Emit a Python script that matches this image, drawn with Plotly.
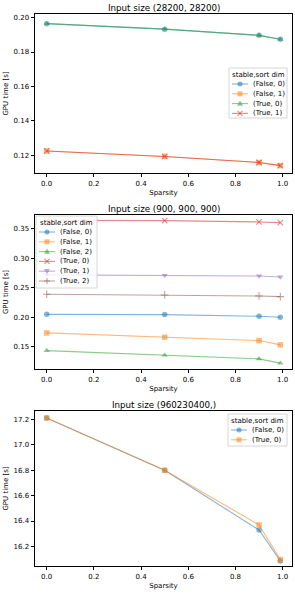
import plotly.graph_objects as go

# ---------------- data ----------------
sparsity = [0.0, 0.5, 0.9, 0.99]

# Plot 1: Input size (28200, 28200)
p1_false0 = [0.1965, 0.1933, 0.1897, 0.1874]
p1_false1 = [0.1225, 0.1193, 0.1158, 0.1140]
p1_true0 = [0.1965, 0.1933, 0.1897, 0.1874]
p1_true1 = [0.1225, 0.1193, 0.1158, 0.1140]

# Plot 2: Input size (900, 900, 900)
p2_false0 = [0.2052, 0.2048, 0.2020, 0.2003]
p2_false1 = [0.1737, 0.1664, 0.1607, 0.1534]
p2_false2 = [0.1437, 0.1359, 0.1297, 0.1224]
p2_true0 = [0.3645, 0.3641, 0.3619, 0.3607]
p2_true1 = [0.2722, 0.2715, 0.2703, 0.2686]
p2_true2 = [0.2393, 0.2381, 0.2364, 0.2353]

# Plot 3: Input size (960230400,)
p3_false0 = [17.213, 16.800, 16.329, 16.084]
p3_true0 = [17.213, 16.800, 16.369, 16.095]

titles = ["Input size (28200, 28200)", "Input size (900, 900, 900)", "Input size (960230400,)"]
legend_title = "stable,sort dim"
x_label = "Sparsity"
y_label = "GPU time [s]"

# ---------------- style ----------------
W, H = 295, 594
FONT = "DejaVu Sans"
BLUE, ORANGE, GREEN, RED, PURPLE, BROWN = "#1f77b4", "#ff7f0e", "#2ca02c", "#d62728", "#9467bd", "#8c564b"
ALPHA = 0.55

def rgba(hexc, a):
    h = hexc.lstrip("#")
    return "rgba(%d,%d,%d,%.2f)" % (int(h[0:2], 16), int(h[2:4], 16), int(h[4:6], 16), a)

SYMBOLS = {"o": "circle", "s": "square", "^": "triangle-up", "x": "x-thin", "v": "triangle-down", "+": "cross-thin"}

# axes boxes in pixels (left, top, right, bottom)
boxes = [(35, 14, 292, 173), (35, 215, 292, 369), (35, 411, 292, 566)]
xrange_ = [-0.0495, 1.0395]
yranges = [[0.1097, 0.2021], [0.1125, 0.3737], [16.045, 17.268]]
ytickvals = [[0.12, 0.14, 0.16, 0.18, 0.20],
             [0.15, 0.20, 0.25, 0.30, 0.35],
             [16.2, 16.4, 16.6, 16.8, 17.0, 17.2]]
yfmt = [".2f", ".2f", ".1f"]

series = [
    [("(False, 0)", p1_false0, BLUE, "o"), ("(False, 1)", p1_false1, ORANGE, "s"),
     ("(True, 0)", p1_true0, GREEN, "^"), ("(True, 1)", p1_true1, RED, "x")],
    [("(False, 0)", p2_false0, BLUE, "o"), ("(False, 1)", p2_false1, ORANGE, "s"),
     ("(False, 2)", p2_false2, GREEN, "^"), ("(True, 0)", p2_true0, RED, "x"),
     ("(True, 1)", p2_true1, PURPLE, "v"), ("(True, 2)", p2_true2, BROWN, "+")],
    [("(False, 0)", p3_false0, BLUE, "o"), ("(True, 0)", p3_true0, ORANGE, "s")],
]

# legend boxes (left, top, right, bottom) in px
legend_boxes = [(229, 68, 287, 118), (36, 216, 97, 288), (228, 414, 287, 446)]

fig = go.Figure()

def px_x(px):
    return px / W

def px_y(py):
    return 1 - py / H

layout = dict(
    width=W, height=H,
    margin=dict(l=0, r=0, t=0, b=0),
    paper_bgcolor="white", plot_bgcolor="white",
    font=dict(family=FONT, size=7, color="black"),
    showlegend=False,
)
shapes = []
annotations = []

for i in range(3):
    l, t, r, b = boxes[i]
    xa = "xaxis" if i == 0 else "xaxis%d" % (i + 1)
    ya = "yaxis" if i == 0 else "yaxis%d" % (i + 1)
    xref = "x" if i == 0 else "x%d" % (i + 1)
    yref = "y" if i == 0 else "y%d" % (i + 1)
    layout[xa] = dict(
        domain=[px_x(l), px_x(r)], anchor=yref, range=xrange_,
        tickvals=[0, 0.2, 0.4, 0.6, 0.8, 1.0], tickformat=".1f",
        showgrid=False, zeroline=False, showline=True, linecolor="black", linewidth=0.8,
        mirror=True, ticks="outside", ticklen=3.5, tickwidth=0.8, tickcolor="black",
        tickfont=dict(size=7, family=FONT),
        title=dict(text=x_label, font=dict(size=7, family=FONT), standoff=3),
    )
    layout[ya] = dict(
        domain=[px_y(b), px_y(t)], anchor=xref, range=yranges[i],
        tickvals=ytickvals[i], tickformat=yfmt[i],
        showgrid=False, zeroline=False, showline=True, linecolor="black", linewidth=0.8,
        mirror=True, ticks="outside", ticklen=3.5, tickwidth=0.8, tickcolor="black",
        tickfont=dict(size=7, family=FONT),
        title=dict(text=y_label, font=dict(size=7, family=FONT), standoff=4),
    )
    annotations.append(dict(
        text=titles[i], x=px_x((l + r) / 2), y=px_y(t - 6), xref="paper", yref="paper",
        xanchor="center", yanchor="middle", showarrow=False,
        font=dict(size=8.7, family=FONT, color="black"),
    ))
    for name, vals, color, m in series[i]:
        sym = SYMBOLS[m]
        thin = m in ("x", "+")
        fig.add_trace(go.Scatter(
            x=sparsity, y=vals, name=name, mode="lines+markers",
            xaxis=xref, yaxis=yref,
            line=dict(color=rgba(color, ALPHA), width=1.1),
            marker=dict(symbol=sym, size=5.5,
                        color=rgba(color, ALPHA),
                        line=dict(width=1.1 if thin else 0, color=rgba(color, ALPHA))),
        ))

    # ---- legend (drawn manually to match compact matplotlib legend) ----
    ll, lt, lr, lb = legend_boxes[i]
    shapes.append(dict(type="rect", xref="paper", yref="paper",
                       x0=px_x(ll), x1=px_x(lr), y0=px_y(lb), y1=px_y(lt),
                       line=dict(color="#cccccc", width=0.8), fillcolor="rgba(255,255,255,0.8)",
                       layer="above"))
    annotations.append(dict(text=legend_title, x=px_x((ll + lr) / 2), y=px_y(lt + 6.5),
                            xref="paper", yref="paper", xanchor="center", yanchor="middle",
                            showarrow=False, font=dict(size=7, family=FONT, color="black")))
    for k, (name, vals, color, m) in enumerate(series[i]):
        ry = lt + 16 + k * 9.8
        x0 = ll + 3
        x1 = ll + 19
        xm = (x0 + x1) / 2
        c = rgba(color, ALPHA)
        shapes.append(dict(type="line", xref="paper", yref="paper",
                           x0=px_x(x0), x1=px_x(x1), y0=px_y(ry), y1=px_y(ry),
                           line=dict(color=c, width=1.1), layer="above"))
        common = dict(xref="paper", yref="paper", xsizemode="pixel", ysizemode="pixel",
                      xanchor=px_x(xm), yanchor=px_y(ry), layer="above")
        s = 2.5
        if m == "o":
            shapes.append(dict(type="circle", x0=-s, x1=s, y0=-s, y1=s,
                               fillcolor=c, line=dict(width=0), **common))
        elif m == "s":
            shapes.append(dict(type="rect", x0=-s, x1=s, y0=-s, y1=s,
                               fillcolor=c, line=dict(width=0), **common))
        elif m == "^":
            shapes.append(dict(type="path", path="M -3 -2.2 L 3 -2.2 L 0 3 Z",
                               fillcolor=c, line=dict(width=0), **common))
        elif m == "v":
            shapes.append(dict(type="path", path="M -3 2.2 L 3 2.2 L 0 -3 Z",
                               fillcolor=c, line=dict(width=0), **common))
        elif m == "x":
            shapes.append(dict(type="path", path="M -2.5 -2.5 L 2.5 2.5 M -2.5 2.5 L 2.5 -2.5",
                               line=dict(color=c, width=1.1), **common))
        elif m == "+":
            shapes.append(dict(type="path", path="M -3 0 L 3 0 M 0 -3 L 0 3",
                               line=dict(color=c, width=1.1), **common))
        annotations.append(dict(text=name, x=px_x(ll + 22), y=px_y(ry), xref="paper", yref="paper",
                                xanchor="left", yanchor="middle", showarrow=False,
                                font=dict(size=7, family=FONT, color="black")))

layout["shapes"] = shapes
layout["annotations"] = annotations
fig.update_layout(**layout)
fig.write_html("out.html", config={"displayModeBar": False},
               post_script="document.body.style.margin='0';document.body.style.overflow='hidden';")
